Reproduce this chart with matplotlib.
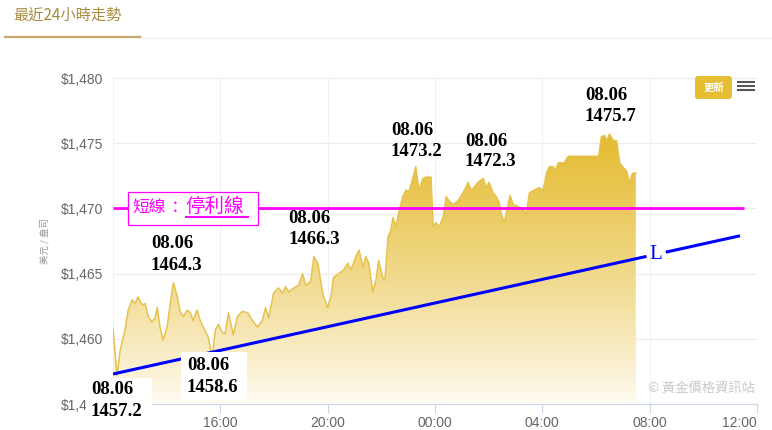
import matplotlib
matplotlib.use("Agg")
import matplotlib.pyplot as plt
import numpy as np
from matplotlib.patches import Rectangle, FancyBboxPatch
from matplotlib.lines import Line2D
from matplotlib.transforms import IdentityTransform

# ---------------- data ----------------
times = ["12:00", "12:09", "12:16", "12:27", "12:34", "12:43", "12:49", "12:56", "13:05", "13:12",
         "13:19", "13:27", "13:34", "13:39", "13:45", "13:52", "14:01", "14:08", "14:15", "14:24",
         "14:30", "14:37", "14:46", "14:53", "14:59", "15:08", "15:15", "15:22", "15:33", "15:42",
         "15:49", "15:56", "16:04", "16:11", "16:18", "16:29", "16:38", "16:49", "17:01", "17:12",
         "17:23", "17:34", "17:41", "17:48", "17:59", "18:10", "18:19", "18:26", "18:33", "18:44",
         "18:55", "19:04", "19:11", "19:22", "19:29", "19:38", "19:44", "19:51", "20:00", "20:07",
         "20:13", "20:25", "20:36", "20:45", "20:52", "21:03", "21:10", "21:19", "21:25", "21:32",
         "21:41", "21:48", "21:54", "22:03", "22:08", "22:15", "22:21", "22:26", "22:33", "22:39",
         "22:48", "22:55", "23:02", "23:11", "23:17", "23:24", "23:33", "23:40", "23:51", "23:56",
         "00:02", "00:09", "00:18", "00:25", "00:31", "00:40", "00:52", "01:03", "01:14", "01:21",
         "01:27", "01:36", "01:48", "01:54", "02:01", "02:10", "02:17", "02:24", "02:28", "02:35",
         "02:44", "02:48", "02:55", "03:02", "03:08", "03:17", "03:24", "03:31", "03:42", "03:53",
         "04:02", "04:09", "04:16", "04:25", "04:27", "04:36", "04:49", "04:58", "06:06", "06:12",
         "06:19", "06:24", "06:30", "06:39", "06:46", "06:53", "07:02", "07:08", "07:15", "07:22",
         "07:29"]
prices = [1460.8, 1457.2, 1459.1, 1460.7, 1462.2, 1463.0, 1462.7, 1463.2, 1462.6, 1462.7,
          1461.7, 1461.3, 1461.6, 1462.4, 1460.9, 1459.9, 1460.9, 1462.7, 1464.3, 1463.2,
          1462.1, 1461.7, 1462.2, 1462.0, 1461.4, 1462.2, 1461.4, 1460.9, 1460.1, 1458.6,
          1460.7, 1461.1, 1460.5, 1460.4, 1462.0, 1460.3, 1461.7, 1462.1, 1462.0, 1461.4,
          1460.9, 1461.4, 1462.4, 1461.6, 1463.5, 1463.9, 1463.5, 1464.0, 1463.6, 1463.9,
          1464.1, 1465.0, 1464.1, 1464.4, 1466.3, 1465.8, 1464.5, 1463.2, 1462.4, 1463.2,
          1464.7, 1465.0, 1465.3, 1465.8, 1465.3, 1466.3, 1466.8, 1465.5, 1466.3, 1465.8,
          1463.6, 1464.5, 1466.0, 1464.7, 1464.5, 1467.8, 1468.3, 1469.3, 1468.6, 1469.7,
          1470.9, 1471.4, 1471.3, 1472.4, 1473.2, 1471.4, 1472.3, 1472.4, 1472.4, 1468.6,
          1468.9, 1468.6, 1469.3, 1470.9, 1470.6, 1470.3, 1470.6, 1471.2, 1472.0, 1471.4,
          1471.6, 1472.0, 1472.3, 1471.6, 1472.0, 1471.2, 1470.9, 1470.4, 1469.6, 1468.9,
          1470.4, 1471.0, 1470.3, 1470.2, 1470.1, 1470.0, 1469.5, 1471.2, 1471.4, 1471.6,
          1471.4, 1472.7, 1473.2, 1473.2, 1472.8, 1473.5, 1473.5, 1474.0, 1474.0, 1475.5,
          1475.6, 1475.2, 1475.7, 1475.2, 1475.2, 1473.5, 1473.1, 1472.9, 1472.0, 1472.7,
          1472.7]

x_tick_labels = ["16:00", "20:00", "00:00", "04:00", "08:00", "12:00"]
y_ticks = [1455, 1460, 1465, 1470, 1475, 1480]

stop_price = 1470.0
stop_times = ["12:00", "11:31"]

trend_times = ["12:00", "07:53", "08:36", "11:22"]   # start, gap start, gap end, end
trend_start_end = [1457.3, 1467.9]

ann_dates = ["08.06"] * 7
ann_values = [1457.2, 1458.6, 1464.3, 1466.3, 1473.2, 1472.3, 1475.7]

# ---------------- layout (pixels) ----------------
W, H = 772, 430
ann_pos = [(91, 390, 411), (187, 366, 387), (151, 243, 265), (288, 218, 240),
           (391, 131, 152), (465, 141, 162), (585, 95, 116)]
ann_boxes = [(86, 378, 152, 430), (181, 352, 247, 400)]


def to_h(t):
    hh, mm = map(int, t.split(":"))
    return ((hh - 12) % 24) + mm / 60.0


def fx(x):
    return x / W


def fy(y):
    return 1 - y / H


plt.rcParams["font.family"] = ["Liberation Sans", "DejaVu Sans"]

fig = plt.figure(figsize=(W / 100, H / 100), dpi=100)
fig.patch.set_facecolor("white")
ax = fig.add_axes([fx(113), 26 / H, 644 / W, 326 / H])

hrs = np.array([to_h(t) for t in times])
pr = np.array(prices)

# grid
for v in y_ticks:
    ax.axhline(v, color="#ececec", lw=0.8, zorder=0.5)
for v in [0, 4, 8, 12, 16, 20, 24]:
    ax.axvline(v, color="#f1f1f1", lw=0.8, zorder=0.5)

# gradient area
poly = ax.fill_between(hrs, pr, 1455, color="none", lw=0, zorder=1)
yy = np.linspace(1455, 1480, 300)
a = np.clip((yy - 1455) / (1476 - 1455), 0, 1) ** 0.85
gold = np.array([228, 186, 45]) / 255.0
rgb = gold[None, :] * a[:, None] + (1 - a[:, None]) * np.array([1.0, 0.99, 0.96])[None, :]
img = ax.imshow(rgb[:, None, :], extent=[0, 24, 1455, 1480], origin="lower",
                aspect="auto", zorder=1, interpolation="bilinear")
img.set_clip_path(poly.get_paths()[0], transform=ax.transData)
ax.plot(hrs, pr, color="#e7c24e", lw=1.1, zorder=2)

# stop line
ax.plot([to_h(t) for t in stop_times], [stop_price] * 2, color="#ff00ff", lw=2.0, zorder=3,
        solid_capstyle="butt")

# trend line with gap for "L"
th = [to_h(t) for t in trend_times]
slope = (trend_start_end[1] - trend_start_end[0]) / (th[3] - th[0])
tp = [trend_start_end[0] + slope * (v - th[0]) for v in th]
ax.plot(th[0:2], tp[0:2], color="#0000ff", lw=2.2, zorder=4, solid_capstyle="butt")
ax.plot(th[2:4], tp[2:4], color="#0000ff", lw=2.2, zorder=4, solid_capstyle="butt")
lh = (th[1] + th[2]) / 2
ax.text(lh, trend_start_end[0] + slope * lh, "L", color="#0000ff", fontsize=15,
        family="Liberation Serif", ha="center", va="center", zorder=5)

ax.set_xlim(0, 24)
ax.set_ylim(1455, 1480)

ax.set_yticks(y_ticks)
ax.set_yticklabels([f"${v:,}" for v in y_ticks])
ax.tick_params(axis="y", length=0, pad=7.2, labelsize=10, labelcolor="#666666")
ax.set_xticks([4, 8, 12, 16, 20, 24])
xl = ax.set_xticklabels(x_tick_labels)
xl[-1].set_ha("right")
ax.tick_params(axis="x", length=6.5, width=0.8, color="#ccd6eb", pad=2,
               labelsize=10, labelcolor="#666666")

for s in ["top", "left", "right"]:
    ax.spines[s].set_visible(False)
ax.spines["bottom"].set_color("#ccd6eb")
ax.spines["bottom"].set_linewidth(0.8)
ax.set_facecolor("white")

# y-axis title
fig.text(fx(45), fy(241), "美元 / 盎司", rotation=90, fontsize=6.8, color="#999999",
         ha="center", va="center", family=["Noto Sans CJK TC", "DejaVu Sans"])

# top tab
fig.text(fx(13), fy(15), "最近24小時走勢", fontsize=11, color="#a88b3e", ha="left",
         va="center", family=["Noto Sans CJK TC", "DejaVu Sans"])
fig.add_artist(Line2D([fx(140), 1], [fy(38), fy(38)], color="#eeeeee", lw=0.8))
fig.add_artist(Line2D([fx(5), fx(140)], [fy(37), fy(37)], color="#c8a76a", lw=1.6))

# update button and menu
fig.add_artist(FancyBboxPatch((695, H - 99), 37, 23, boxstyle="round,pad=0,rounding_size=3",
                              transform=IdentityTransform(), facecolor="#e6be34",
                              edgecolor="none", zorder=5))
fig.text(fx(713.5), fy(87.5), "更新", fontsize=7.5, color="white", weight="bold",
         ha="center", va="center", family=["Noto Sans CJK TC", "DejaVu Sans"], zorder=6)
for yy_ in (82, 86, 90):
    fig.add_artist(Line2D([fx(738), fx(754)], [fy(yy_), fy(yy_)], color="#555555", lw=1.5,
                          zorder=6))

# copyright
fig.text(fx(755), fy(388), "© 黃金價格資訊站", fontsize=9.5, color="#c8c8c8", ha="right",
         va="center", family=["Noto Sans CJK TC", "DejaVu Sans"], zorder=6)

# stop-line label box
fig.add_artist(Rectangle((fx(128), fy(225)), fx(258) - fx(128), fy(192) - fy(225),
                         facecolor="white", edgecolor="#ff00ff", lw=0.9, zorder=6))
fig.text(fx(132), fy(208), "短線", fontsize=12, color="#ff00ff", ha="left", va="center",
         family=["Noto Sans CJK TC", "DejaVu Sans"], zorder=7)
fig.text(fx(167), fy(208), "：", fontsize=12, color="#ff00ff", ha="left", va="center",
         family=["Noto Sans CJK TC", "DejaVu Sans"], zorder=7)
fig.text(fx(185), fy(206), "停利線", fontsize=14, color="#ff00ff", ha="left", va="center",
         family=["Noto Sans CJK TC", "DejaVu Sans"], zorder=7)
fig.add_artist(Line2D([fx(186), fx(248)], [fy(217), fy(217)], color="#ff00ff", lw=1.4, zorder=7))

# price annotations
for (x0, y0, x1, y1) in ann_boxes:
    fig.add_artist(Rectangle((fx(x0), fy(y1)), fx(x1) - fx(x0), fy(y0) - fy(y1),
                             facecolor="white", edgecolor="none", zorder=6))
for d, v, (x, y1, y2) in zip(ann_dates, ann_values, ann_pos):
    fig.text(fx(x), fy(y1), d, fontsize=13.5, weight="bold", family="Liberation Serif",
             color="black", ha="left", va="center", zorder=7)
    fig.text(fx(x), fy(y2), f"{v:.1f}", fontsize=13.5, weight="bold", family="Liberation Serif",
             color="black", ha="left", va="center", zorder=7)

fig.savefig("out.png", dpi=100, facecolor="white")
